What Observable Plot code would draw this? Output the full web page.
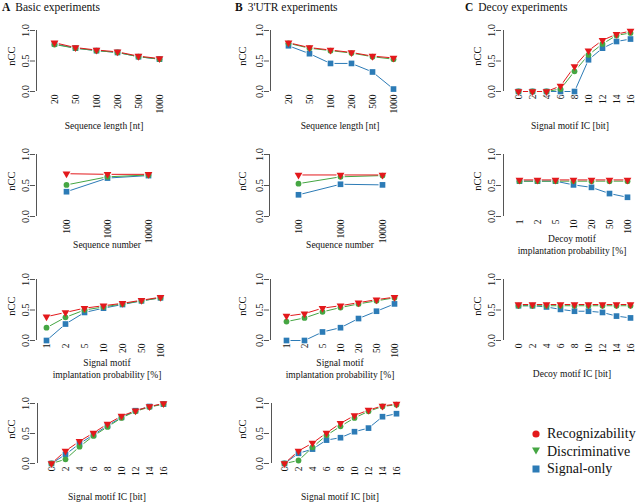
<!DOCTYPE html>
<html><head><meta charset="utf-8">
<script src="https://cdn.jsdelivr.net/npm/d3@7"></script>
<script src="https://cdn.jsdelivr.net/npm/@observablehq/plot@0.6"></script>
<style>
body{margin:0;background:#fff;}
#fig{position:relative;width:640px;height:503px;font-family:"Liberation Serif","Times New Roman",serif;color:#111;overflow:hidden;background:#fff}
#fig svg{position:absolute;left:0;top:0}
.t{position:absolute;white-space:nowrap;transform:translate(-50%,-50%);font-size:9.5px;line-height:12px;text-align:center}
.ylab{transform:translate(-50%,-50%) rotate(-90deg);font-size:10.5px}
.title{position:absolute;white-space:nowrap;font-size:11.5px;top:1px}
.title b{margin-right:5px}
.leg{position:absolute;left:531px;top:425px;font-size:14px;line-height:17.5px}
.leg div{display:flex;align-items:center}
.leg svg{position:static !important;margin-right:6px}
</style></head><body><div id="fig"></div>
<script>
// ---- categories / tick labels ----
const seqLength = ["20","50","100","200","500","1000"];
const seqNumber = ["100","1000","10000"];
const implProb  = ["1","2","5","10","20","50","100"];
const motifIC   = ["0","2","4","6","8","10","12","14","16"];
const seriesNames = ["Recognizability","Discriminative","Signal-only"];
const seriesColors = ["#e3191c","#45a643","#2c7bb6"];

// ---- values: red (Recognizability), green (Discriminative), blue (Signal-only) ----
const A1_red = [0.80,0.72,0.68,0.65,0.58,0.54];
const A1_green = [0.77,0.71,0.67,0.64,0.57,0.53];
const A1_blue = [0.78,0.71,0.67,0.64,0.57,0.53];
const B1_red = [0.80,0.72,0.68,0.64,0.58,0.55];
const B1_green = [0.79,0.71,0.67,0.63,0.57,0.53];
const B1_blue = [0.75,0.62,0.46,0.46,0.32,0.04];
const C1_red = [0.00,0.00,0.00,0.09,0.41,0.67,0.84,0.94,0.99];
const C1_green = [0.00,0.00,0.00,0.04,0.33,0.60,0.78,0.92,0.96];
const C1_blue = [0.00,0.00,0.00,0.00,0.00,0.52,0.71,0.82,0.86];

const A2_red = [0.69,0.68,0.68];
const A2_green = [0.51,0.64,0.67];
const A2_blue = [0.40,0.62,0.66];
const B2_red = [0.67,0.67,0.67];
const B2_green = [0.53,0.64,0.66];
const B2_blue = [0.35,0.52,0.51];
const C2_red = [0.59,0.59,0.59,0.59,0.59,0.59,0.59];
const C2_green = [0.57,0.57,0.57,0.57,0.57,0.57,0.57];
const C2_blue = [0.57,0.57,0.57,0.51,0.47,0.37,0.31];

const A3_red = [0.39,0.46,0.53,0.57,0.61,0.66,0.71];
const A3_green = [0.21,0.38,0.50,0.55,0.60,0.65,0.70];
const A3_blue = [0.00,0.27,0.46,0.53,0.59,0.65,0.70];
const B3_red = [0.40,0.44,0.53,0.57,0.62,0.67,0.71];
const B3_green = [0.31,0.37,0.47,0.54,0.60,0.65,0.70];
const B3_blue = [0.00,0.00,0.14,0.21,0.36,0.48,0.60];
const C3_red = [0.59,0.59,0.59,0.59,0.59,0.59,0.59,0.59,0.59];
const C3_green = [0.57,0.57,0.57,0.57,0.57,0.57,0.57,0.57,0.57];
const C3_blue = [0.57,0.57,0.55,0.51,0.48,0.48,0.46,0.40,0.37];

const A4_red = [0.00,0.21,0.37,0.51,0.66,0.79,0.88,0.95,1.00];
const A4_green = [0.00,0.07,0.28,0.46,0.61,0.76,0.87,0.94,0.99];
const A4_blue = [0.00,0.15,0.33,0.48,0.63,0.77,0.88,0.95,0.99];
const B4_red = [0.00,0.21,0.34,0.51,0.67,0.80,0.89,0.96,0.99];
const B4_green = [0.00,0.05,0.27,0.47,0.62,0.76,0.87,0.95,0.98];
const B4_blue = [0.00,0.17,0.24,0.39,0.43,0.53,0.59,0.78,0.83];

// ---- layout (page pixels) ----
const W = 640, H = 503;
const panels = [
  {cats:seqLength, vals:[A1_red,A1_green,A1_blue], ax:35,  x0:53,  x1:160, top:30,  bot:91},
  {cats:seqLength, vals:[B1_red,B1_green,B1_blue], ax:269, x0:287, x1:393, top:30,  bot:91},
  {cats:motifIC,   vals:[C1_red,C1_green,C1_blue], ax:501, x0:516, x1:631, top:30,  bot:91},
  {cats:seqNumber, vals:[A2_red,A2_green,A2_blue], ax:35,  x0:65,  x1:148, top:154, bot:216},
  {cats:seqNumber, vals:[B2_red,B2_green,B2_blue], ax:269, x0:298, x1:382, top:154, bot:216},
  {cats:implProb,  vals:[C2_red,C2_green,C2_blue], ax:501, x0:517, x1:628, top:154, bot:216},
  {cats:implProb,  vals:[A3_red,A3_green,A3_blue], ax:35,  x0:45,  x1:161, top:279, bot:340},
  {cats:implProb,  vals:[B3_red,B3_green,B3_blue], ax:269, x0:285, x1:395, top:279, bot:340},
  {cats:motifIC,   vals:[C3_red,C3_green,C3_blue], ax:501, x0:516, x1:631, top:279, bot:340},
  {cats:motifIC,   vals:[A4_red,A4_green,A4_blue], ax:35,  x0:49,  x1:165, top:403, bot:463},
  {cats:motifIC,   vals:[B4_red,B4_green,B4_blue], ax:269, x0:282, x1:397, top:403, bot:463}
];
const symbols = [
  {symbol:"triangle", rotate:180, r:2.9},
  {symbol:"circle", rotate:0, r:2.9},
  {symbol:"square", rotate:0, r:3.2}
];

const fig = document.getElementById("fig");

for (const p of panels) {
  const rows = [];
  p.vals.forEach((v, s) => v.forEach((y, i) => rows.push({s, x: p.cats[i], y})));
  const order = [2, 1, 0];
  const marks = [
    Plot.ruleX([p.cats[0]], {y1: 0, y2: 1, dx: p.ax - p.x0, stroke: "#555", strokeWidth: 1}),
    Plot.axisY({ticks: [0, 0.5, 1], tickFormat: d3.format(".1f"), tickSize: 5, tickPadding: 2,
                tickRotate: -90, label: null, fontSize: 10.5, stroke: "#555"}),
    Plot.axisX({tickSize: 0, tickPadding: 3, tickRotate: -90, label: null, fontSize: 9.5})
  ];
  for (const s of order) {
    marks.push(Plot.line(rows.filter(d => d.s === s), {x: "x", y: "y", stroke: seriesColors[s], strokeWidth: 1}));
  }
  marks.push(Plot.dot(rows, {x: "x", y: "y", r: 4, fill: "white"}));
  for (const s of order) {
    marks.push(Plot.dot(rows.filter(d => d.s === s), {x: "x", y: "y", fill: seriesColors[s],
      symbol: symbols[s].symbol, rotate: symbols[s].rotate, r: symbols[s].r}));
  }
  const svg = Plot.plot({
    width: W, height: H,
    marginLeft: p.ax, marginRight: 0, marginTop: p.top, marginBottom: H - p.bot,
    x: {type: "point", domain: p.cats, range: [p.x0, p.x1], padding: 0},
    y: {domain: [0, 1]},
    style: {background: "transparent", overflow: "visible", fontFamily: "'Liberation Serif', 'Times New Roman', serif", color: "#111"},
    marks
  });
  fig.appendChild(svg);
}

// ---- texts ----
function addText(cls, x, y, html) {
  const d = document.createElement("div");
  d.className = cls; d.style.left = x + "px"; d.style.top = y + "px"; d.innerHTML = html;
  fig.appendChild(d);
}
[["A","Basic experiments",2],["B","3'UTR experiments",235],["C","Decoy experiments",465]].forEach(([l,t,x]) => {
  const d = document.createElement("div"); d.className = "title"; d.style.left = x + "px";
  d.innerHTML = `<b>${l}</b>${t}`; fig.appendChild(d);
});
const nccX = [12, 243, 478];
const rowMid = [56, 181, 306, 429];
[[0,0],[1,0],[2,0],[0,1],[1,1],[2,1],[0,2],[1,2],[2,2],[0,3],[1,3]].forEach(([c,r]) => addText("t ylab", nccX[c], rowMid[r], "nCC"));

const xTitles = [
  [104,126,"Sequence length [nt]"],[340,126,"Sequence length [nt]"],[570,126,"Signal motif IC [bit]"],
  [107,245,"Sequence number"],[340,245,"Sequence number"],[572,245,"Decoy motif<br>implantation probability [%]"],
  [107,369,"Signal motif<br>implantation probability [%]"],[340,369,"Signal motif<br>implantation probability [%]"],[572,374,"Decoy motif IC [bit]"],
  [107,497,"Signal motif IC [bit]"],[340,497,"Signal motif IC [bit]"]
];
xTitles.forEach(([x,y,t]) => addText("t", x, y, t));

// ---- legend ----
const legShapes = [
  `<circle cx="5" cy="5" r="3.6" fill="${seriesColors[0]}"/>`,
  `<path d="M1,1.5 L9,1.5 L5,8.5 Z" fill="${seriesColors[1]}"/>`,
  `<rect x="1.5" y="1.5" width="7" height="7" fill="${seriesColors[2]}"/>`
];
const leg = document.createElement("div"); leg.className = "leg";
seriesNames.forEach((n, i) => {
  leg.innerHTML += `<div><svg width="10" height="10">${legShapes[i]}</svg><span>${n}</span></div>`;
});
fig.appendChild(leg);
</script></body></html>
